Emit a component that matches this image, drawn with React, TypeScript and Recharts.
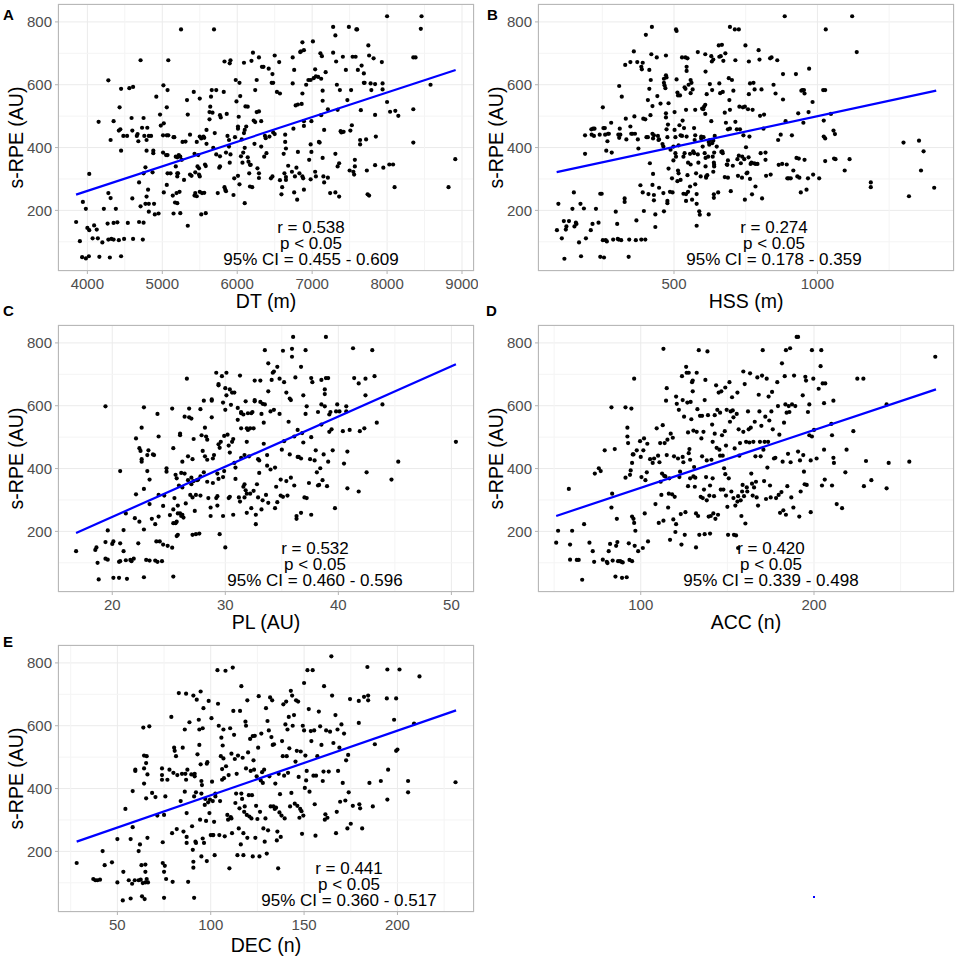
import React from "react";
import {
  ScatterChart,
  Scatter,
  XAxis,
  YAxis,
  CartesianGrid,
  ReferenceLine,
} from "recharts";

// ---------------------------------------------------------------------------
// Data
// ---------------------------------------------------------------------------

type Pt = [number, number];

const dtPoints: Pt[] = [
  [3850,163],[3900,102],[3940,227],[3980,205],[4000,144],[4025,137],[3930,51],[3980,47],[4020,54],[4025,316],
  [4090,152],[4125,139],[4070,111],[4140,111],[4200,98],[4220,205],[4160,52],[4280,255],[4310,239],[4270,158],
  [4280,107],[4320,109],[4350,107],[4300,50],[4350,160],[4380,205],[4400,162],[4420,105],[4490,109],[4450,54],
  [4280,614],[4310,424],[4150,482],[4350,484],[4450,587],[4610,593],[4560,589],[4430,528],[4440,458],[4420,454],
  [4450,390],[4480,437],[4530,437],[4590,494],[4600,454],[4660,437],[4680,420],[4670,443],[4710,678],[4750,494],
  [4730,463],[4800,463],[4760,437],[4820,437],[4850,437],[4790,424],[4790,390],[4880,390],[4880,382],[4775,337],
  [4750,318],[4690,289],[4810,266],[4790,244],[4775,221],[4820,221],[4890,221],[4870,321],[4950,190],[4900,187],
  [4820,196],[4710,213],[4690,163],[4750,161],[4740,107],[4610,109],[4540,160],[4600,238],[4920,562],[4970,505],
  [4980,470],[5010,439],[5020,477],[5060,528],[5070,583],[5015,598],[5080,678],[5060,439],[5080,439],[5010,384],
  [5050,376],[5070,376],[5020,257],[5060,281],[5070,318],[5110,318],[5140,247],[5150,190],[5170,225],[5180,340],
  [5200,318],[5210,318],[5150,433],[5160,433],[5200,369],[5220,376],[5240,371],[5260,361],[5180,371],[5200,308],
  [5230,259],[5240,191],[5190,255],[5200,223],[5250,776],[5270,418],[5310,419],[5290,297],[5330,551],[5340,505],
  [5370,441],[5340,151],[5370,314],[5390,310],[5420,577],[5460,418],[5430,380],[5440,321],[5470,340],[5490,314],
  [5500,308],[5490,334],[5480,376],[5500,556],[5500,435],[5520,429],[5550,435],[5560,431],[5590,412],[5570,346],
  [5580,341],[5500,259],[5430,247],[5440,255],[5530,255],[5520,187],[5580,191],[5560,256],[5460,245],[5590,456],
  [5630,490],[5630,513],[5640,530],[5650,562],[5660,583],[5690,776],[5670,511],[5680,399],[5700,446],[5720,378],
  [5720,583],[5740,255],[5770,340],[5760,336],[5770,503],[5780,496],[5770,372],[5820,577],[5830,674],[5830,274],
  [5840,266],[5850,261],[5850,384],[5860,507],[5870,437],[5890,424],[5890,403],[5900,668],[5910,678],[5910,378],
  [5900,352],[5950,249],[5960,302],[5970,433],[5990,547],[5980,615],[6010,460],[6010,467],[6030,606],[6020,498],
  [6010,310],[6030,283],[6040,564],[6050,372],[6060,426],[6070,352],[6080,384],[6090,446],[6100,456],[6090,670],
  [6100,399],[6100,223],[6120,467],[6110,531],[6140,530],[6140,369],[6150,355],[6160,318],[6170,276],[6170,345],
  [6180,345],[6190,676],[6200,274],[6210,702],[6220,486],[6230,412],[6240,583],[6240,481],[6260,615],[6260,513],
  [6270,334],[6290,687],[6290,515],[6290,318],[6290,303],[6320,484],[6320,403],[6330,657],[6350,657],[6360,371],
  [6370,437],[6380,430],[6390,382],[6420,651],[6430,435],[6460,606],[6470,634],[6480,606],[6470,308],[6450,302],
  [6480,448],[6500,693],[6500,443],[6530,577],[6560,672],[6570,572],[6570,296],[6590,251],[6600,274],[6620,380],
  [6630,318],[6640,441],[6640,418],[6650,306],[6650,297],[6650,397],[6680,342],[6730,323],[6740,687],[6740,604],
  [6750,460],[6760,647],[6760,257],[6770,308],[6780,534],[6790,336],[6800,234],[6810,386],[6810,537],[6830,318],
  [6840,704],[6850,706],[6870,735],[6860,539],[6870,572],[6870,308],[6880,302],[6890,710],[6890,266],[6890,469],
  [6890,484],[6920,600],[6950,615],[6960,361],[6980,410],[6980,299],[6980,615],[6990,386],[6990,484],[7010,738],
  [7020,621],[7040,649],[7040,323],[7050,308],[7050,627],[7080,625],[7090,418],[7100,416],[7110,700],[7120,503],
  [7120,619],[7130,691],[7140,581],[7140,549],[7140,367],[7150,308],[7160,456],[7160,289],[7180,640],[7210,522],
  [7240,255],[7210,304],[7280,702],[7280,784],[7310,757],[7310,380],[7310,257],[7320,674],[7330,600],[7340,340],
  [7340,520],[7360,244],[7370,583],[7360,350],[7380,452],[7390,448],[7410,689],[7420,450],[7450,647],[7470,551],
  [7490,784],[7500,327],[7510,454],[7520,583],[7530,471],[7540,689],[7550,323],[7560,314],[7570,340],[7570,361],
  [7580,689],[7590,776],[7600,776],[7610,647],[7640,410],[7640,424],[7650,519],[7660,661],[7690,636],[7690,606],
  [7700,606],[7720,426],[7730,327],[7740,251],[7750,725],[7760,247],[7760,693],[7780,604],[7790,583],[7820,684],
  [7840,602],[7840,504],[7850,435],[7840,344],[7930,672],[7940,585],[7940,604],[7950,336],[8000,818],[8000,545],
  [8030,346],[8040,514],[8080,346],[8100,274],[8110,517],[8150,501],[8350,687],[8380,687],[8350,522],[8350,416],
  [8460,818],[8450,778],[8580,600],[8820,274],[8910,363],
];

const hssPoints: Pt[] = [
  [92,137],[97,221],[109,111],[118,46],[116,166],[123,139],[125,149],[134,166],[151,257],[146,205],
  [153,149],[158,161],[160,157],[169,98],[174,221],[176,54],[186,206],[190,439],[190,380],[193,111],
  [210,137],[216,157],[218,460],[223,460],[212,458],[213,441],[221,437],[228,205],[237,161],[241,441],
  [243,253],[248,253],[243,52],[252,528],[254,462],[259,462],[252,105],[256,50],[260,441],[262,105],
  [264,390],[266,101],[268,420],[270,444],[273,444],[283,384],[281,479],[288,107],[297,196],[302,157],
  [304,109],[309,431],[309,596],[311,460],[313,441],[306,441],[307,107],[316,105],[318,562],[330,663],
  [332,492],[334,426],[328,238],[328,227],[342,52],[344,107],[348,672],[348,467],[351,444],[355,444],
  [360,706],[362,499],[364,444],[367,105],[369,168],[372,672],[374,426],[376,397],[383,280],[386,657],
  [388,649],[386,107],[391,257],[391,670],[393,492],[395,198],[400,490],[400,107],[402,759],[404,433],
  [409,433],[409,551],[414,647],[411,252],[418,503],[419,615],[414,587],[416,350],[421,697],[423,784],
  [425,532],[425,444],[427,429],[430,439],[425,281],[427,316],[430,249],[430,232],[435,147],[435,187],
  [440,687],[442,564],[444,437],[446,424],[448,426],[448,272],[453,540],[460,411],[463,255],[463,403],
  [465,619],[465,606],[465,197],[467,598],[470,589],[472,509],[472,496],[472,693],[474,458],[477,223],
  [472,630],[474,623],[477,230],[477,433],[479,473],[481,541],[481,333],[486,259],[488,393],[493,302],
  [495,257],[498,359],[498,403],[502,456],[502,513],[505,433],[505,382],[507,371],[509,771],[507,776],
  [509,617],[512,575],[512,293],[514,566],[514,327],[516,318],[516,407],[519,471],[521,566],[523,297],
  [523,439],[528,437],[528,687],[530,486],[533,253],[533,371],[535,462],[537,592],[537,382],[540,687],
  [540,587],[542,520],[542,252],[542,230],[544,435],[544,657],[544,644],[547,684],[547,312],[549,352],
  [549,259],[551,600],[556,276],[556,380],[558,573],[558,615],[558,346],[561,606],[563,234],[565,585],
  [567,388],[570,382],[570,462],[572,424],[574,439],[574,520],[574,283],[577,318],[579,221],[579,151],
  [579,252],[583,704],[583,378],[585,352],[588,197],[590,186],[593,308],[595,429],[595,435],[598,524],
  [600,403],[602,522],[603,433],[605,530],[607,382],[609,536],[609,697],[609,507],[610,642],[610,367],
  [610,340],[612,308],[612,304],[614,570],[616,312],[619,371],[621,187],[621,418],[623,409],[625,602],
  [625,424],[630,691],[630,484],[632,674],[633,583],[633,414],[635,371],[637,323],[637,422],[637,680],
  [639,251],[639,240],[639,352],[640,340],[640,384],[640,345],[642,437],[649,403],[654,257],[656,725],
  [658,604],[658,689],[661,573],[663,691],[665,386],[667,727],[668,388],[670,382],[670,577],[672,676],
  [677,511],[677,306],[679,700],[681,479],[684,346],[686,345],[688,359],[688,458],[688,304],[691,621],
  [693,551],[695,520],[695,460],[695,784],[698,261],[702,615],[705,342],[707,581],[712,776],[714,482],
  [714,678],[719,458],[721,363],[723,310],[726,776],[726,374],[728,530],[730,458],[733,350],[737,304],
  [738,371],[740,528],[742,439],[745,363],[747,530],[747,234],[749,725],[751,401],[753,318],[756,320],
  [758,522],[760,369],[761,674],[761,570],[763,435],[765,604],[765,300],[767,348],[770,352],[772,251],
  [774,520],[777,606],[779,350],[781,585],[784,276],[784,348],[791,348],[795,710],[798,680],[800,501],
  [802,382],[805,585],[807,238],[812,460],[814,505],[819,384],[819,361],[821,310],[835,684],[837,314],
  [840,687],[847,600],[854,572],[860,678],[863,424],[865,345],[872,441],[877,348],[880,634],[880,553],
  [886,818],[889,484],[893,346],[895,302],[900,302],[907,302],[911,439],[916,327],[925,634],[927,367],
  [930,308],[933,509],[937,304],[935,365],[942,257],[944,581],[948,583],[951,479],[953,583],[955,572],
  [955,361],[962,266],[967,302],[969,513],[971,651],[983,545],[985,314],[1006,302],[1020,583],[1027,583],
  [1022,486],[1022,435],[1027,429],[1027,357],[1029,776],[1047,507],[1056,454],[1061,443],[1058,365],[1063,363],
  [1095,327],[1112,363],[1121,818],[1137,704],[1186,289],[1186,274],[1300,416],[1319,245],[1354,422],[1361,327],
  [1370,388],[1407,272],
];

const plPoints: Pt[] = [
  [16.8,137],[18.5,141],[18.6,149],[18.7,100],[18.8,47],[19.4,598],[19.4,113],[19.6,110],[19.4,166],[19.6,203],
  [20.0,160],[20.1,168],[20.1,52],[20.6,52],[20.7,392],[20.7,162],[21.0,137],[21.0,204],[21.2,257],[21.3,49],
  [20.6,103],[20.7,105],[21.2,108],[21.6,109],[21.7,105],[21.9,113],[22.0,242],[22.1,318],[22.1,496],[22.3,162],
  [22.4,231],[22.4,465],[22.5,456],[22.6,430],[22.6,422],[22.6,530],[22.8,595],[22.8,54],[22.8,206],[22.8,335],
  [23.0,109],[23.1,392],[23.1,443],[23.2,458],[23.3,365],[23.3,107],[23.3,287],[23.5,240],[23.6,445],[23.7,443],
  [23.8,223],[23.8,107],[23.9,168],[24.0,103],[24.0,574],[24.1,247],[24.1,502],[24.1,316],[24.2,168],[24.4,105],
  [24.5,281],[24.5,158],[24.6,314],[24.8,401],[24.8,390],[24.9,154],[25.1,252],[25.3,148],[25.3,591],[25.4,465],
  [25.4,270],[25.4,56],[25.4,226],[25.5,306],[25.6,380],[25.6,226],[25.7,369],[25.7,231],[25.7,185],[25.8,189],
  [25.8,282],[25.8,257],[25.9,346],[26.0,506],[26.0,511],[26.0,257],[26.1,249],[26.1,386],[26.2,253],[26.2,422],
  [26.2,340],[26.3,244],[26.4,565],[26.4,384],[26.5,289],[26.6,686],[26.7,439],[26.7,363],[26.8,591],[26.8,563],
  [26.9,316],[27.0,350],[27.0,559],[27.0,371],[27.1,308],[27.1,430],[27.1,189],[27.2,494],[27.2,360],[27.3,265],
  [27.4,316],[27.4,191],[27.5,363],[27.6,365],[27.7,193],[27.8,314],[27.8,375],[27.8,589],[27.9,506],[28.0,456],
  [28.1,388],[28.1,616],[28.2,530],[28.2,439],[28.3,502],[28.4,492],[28.4,428],[28.4,358],[28.5,306],[28.7,276],
  [28.7,249],[28.8,620],[28.8,616],[28.8,563],[28.9,432],[28.9,354],[29.0,443],[29.2,306],[29.2,705],[29.3,312],
  [29.3,384],[29.3,282],[29.4,669],[29.4,367],[29.4,665],[29.4,477],[29.5,191],[29.5,466],[29.6,485],[29.7,694],
  [29.8,610],[29.8,249],[29.8,373],[29.9,392],[29.9,504],[30.0,149],[30.0,587],[30.1,705],[30.0,656],[30.1,633],
  [30.2,508],[30.3,306],[30.3,473],[30.4,652],[30.4,451],[30.4,310],[30.5,603],[30.6,485],[30.6,642],[30.7,253],
  [30.7,494],[30.8,642],[30.8,418],[30.9,403],[30.9,367],[31.1,555],[31.1,593],[31.2,308],[31.3,696],[31.3,295],
  [31.4,434],[31.4,580],[31.4,576],[31.4,528],[31.6,342],[31.6,572],[31.7,350],[31.7,443],[31.7,308],[31.8,614],
  [31.8,331],[31.9,320],[31.9,528],[31.9,485],[31.9,259],[32.0,523],[32.0,576],[32.1,439],[32.2,528],[32.2,320],
  [32.3,576],[32.3,274],[32.4,580],[32.5,329],[32.5,528],[32.6,618],[32.6,680],[32.6,614],[32.7,223],[32.7,253],
  [32.8,350],[32.9,308],[32.9,430],[33.0,386],[33.0,426],[33.1,612],[33.1,680],[33.2,270],[33.2,574],[33.3,299],
  [33.3,606],[33.4,546],[33.4,479],[33.5,777],[33.5,604],[33.6,316],[33.7,409],[33.7,443],[33.8,291],[33.8,646],
  [33.8,735],[34.0,397],[34.0,582],[34.1,682],[34.2,705],[34.3,587],[34.3,709],[34.4,274],[34.4,403],[34.5,342],
  [34.6,293],[34.6,724],[34.8,686],[34.8,574],[34.9,314],[34.9,365],[35.0,460],[35.1,310],[35.1,775],[35.2,487],
  [35.2,675],[35.4,642],[35.4,360],[35.5,314],[35.6,549],[35.7,623],[35.7,445],[35.8,371],[35.8,618],[35.9,781],
  [35.9,756],[36.0,819],[36.1,502],[36.1,346],[36.2,690],[36.3,240],[36.3,249],[36.4,437],[36.4,523],[36.5,437],
  [36.7,259],[36.7,432],[36.7,724],[36.8,513],[36.9,633],[36.9,483],[37.0,308],[37.1,574],[37.1,777],[37.2,306],
  [37.2,598],[37.4,354],[37.5,430],[37.6,500],[37.6,688],[37.6,253],[37.7,675],[37.9,426],[38.0,458],[38.1,388],
  [38.2,346],[38.2,580],[38.3,348],[38.4,401],[38.5,682],[38.5,604],[38.5,540],[38.6,363],[38.7,445],[38.8,598],
  [38.8,637],[38.8,652],[38.9,688],[38.9,819],[39.0,344],[39.1,688],[39.1,422],[39.2,572],[39.2,517],[39.3,580],
  [39.4,525],[39.5,458],[39.7,274],[39.8,582],[39.9,604],[40.1,582],[40.4,519],[40.5,416],[40.7,582],[40.7,598],
  [40.8,454],[40.8,337],[41.0,523],[41.3,783],[41.4,688],[41.8,671],[41.8,327],[41.9,519],[42.3,528],[42.4,686],
  [42.4,633],[42.5,388],[43.0,777],[43.2,694],[43.4,546],[43.9,604],[44.7,365],[45.3,422],[50.4,485],
];

const accPoints: Pt[] = [
  [51.2,164],[52.3,202],[58.5,335],[59.2,158],[59.2,110],[60.4,202],[63.1,109],[64.2,109],[66.2,46],[67.3,223],
  [70.4,164],[72.3,137],[73.1,103],[73.5,384],[75.8,401],[76.9,392],[79.2,458],[78.1,110],[80.4,103],[80.8,99],
  [81.5,137],[82.3,160],[83.1,595],[83.5,320],[83.1,276],[83.8,107],[85.0,462],[85.4,56],[85.8,154],[86.2,240],
  [86.5,166],[86.9,105],[88.1,105],[88.8,103],[89.2,52],[89.6,101],[91.2,371],[91.2,595],[91.9,54],[92.3,530],
  [92.3,502],[92.7,481],[93.1,162],[93.5,109],[93.8,380],[94.2,394],[94.6,591],[95.0,105],[95.0,247],[95.0,418],
  [95.4,445],[95.8,445],[95.8,240],[96.2,686],[96.2,227],[96.5,154],[96.9,202],[97.7,458],[98.5,137],[99.6,487],
  [100.0,437],[100.4,373],[101.2,147],[101.5,458],[101.9,496],[102.3,257],[102.7,363],[103.5,388],[103.8,479],[104.2,168],
  [105.4,430],[106.9,418],[107.7,432],[108.5,287],[109.2,528],[110.0,441],[110.4,227],[110.8,420],[111.2,481],[111.5,358],
  [111.9,316],[112.3,384],[112.7,538],[113.1,781],[113.1,234],[113.5,377],[113.8,481],[114.2,375],[114.6,616],[115.0,656],
  [115.0,443],[115.4,492],[115.8,276],[116.2,320],[116.5,369],[116.9,173],[117.3,511],[118.1,318],[118.5,498],[118.8,238],
  [119.2,439],[119.6,310],[120.0,198],[120.4,629],[120.4,223],[120.8,606],[121.5,432],[122.0,587],[122.3,373],[122.7,390],
  [123.1,255],[123.5,158],[123.8,694],[124.2,437],[124.2,618],[124.6,420],[125.0,565],[125.4,189],[125.8,261],[126.2,724],
  [126.5,705],[126.9,610],[127.3,344],[127.3,515],[127.7,449],[127.7,705],[128.1,462],[128.5,369],[128.5,428],[128.8,612],
  [129.2,557],[129.6,675],[130.0,680],[130.0,646],[130.4,521],[130.4,375],[130.8,405],[131.2,342],[131.5,371],[131.9,257],
  [131.9,149],[132.3,705],[132.3,517],[132.7,589],[133.1,249],[133.5,777],[133.8,189],[134.2,568],[134.6,310],[135.0,496],
  [135.4,439],[135.4,568],[135.8,306],[136.2,517],[136.5,333],[136.9,618],[136.9,191],[137.3,682],[137.7,373],[138.1,426],
  [138.1,299],[138.5,773],[138.8,570],[139.2,247],[139.6,314],[140.0,346],[140.0,193],[140.4,249],[140.8,428],[141.2,540],
  [141.5,485],[141.5,369],[141.9,257],[142.3,312],[142.7,570],[142.7,511],[143.1,240],[143.5,665],[143.8,466],[144.2,587],
  [144.6,253],[145.0,642],[145.4,460],[145.8,441],[145.8,578],[146.2,333],[146.5,646],[146.9,506],[147.3,441],[147.7,333],
  [148.1,401],[148.5,519],[148.8,382],[148.8,658],[149.2,314],[149.2,473],[149.6,587],[150.0,278],[150.4,189],[150.8,369],
  [151.2,675],[151.5,549],[151.9,582],[152.3,327],[152.7,627],[153.1,585],[153.5,306],[153.5,563],[153.8,189],[154.2,464],
  [154.6,282],[155.0,187],[155.4,574],[155.8,642],[155.8,295],[156.2,312],[156.5,525],[156.9,441],[157.3,481],[157.7,299],
  [158.1,249],[158.5,327],[158.8,348],[159.2,709],[159.2,517],[159.6,312],[160.0,669],[160.4,225],[160.8,485],[161.2,340],
  [161.5,327],[161.9,582],[162.3,525],[162.7,483],[163.1,703],[163.5,530],[163.8,384],[164.2,352],[164.6,314],[165.0,485],
  [165.4,340],[165.8,549],[166.2,439],[166.5,358],[166.9,308],[167.3,690],[167.7,282],[168.1,635],[168.5,582],[168.8,485],
  [169.2,439],[169.6,536],[170.0,696],[170.4,777],[170.8,460],[171.2,360],[171.5,485],[171.9,565],[172.3,303],[172.7,686],
  [173.1,403],[173.5,485],[173.8,629],[174.2,553],[174.6,346],[175.0,308],[175.4,582],[175.8,644],[176.2,525],[176.9,432],
  [177.7,434],[178.1,306],[178.8,675],[179.2,599],[179.6,316],[180.0,508],[180.4,259],[181.2,325],[181.5,735],[181.9,422],
  [182.3,267],[182.7,546],[183.1,694],[183.5,604],[183.8,253],[183.8,777],[184.2,578],[184.6,344],[185.0,447],[185.4,599],
  [185.8,580],[186.2,783],[186.5,420],[186.9,308],[187.3,604],[188.1,276],[188.5,696],[189.2,599],[190.0,819],[190.8,819],
  [190.8,454],[191.5,247],[191.9,426],[192.3,327],[193.5,633],[193.8,443],[194.2,390],[194.6,350],[195.0,692],[195.4,680],
  [195.8,348],[196.5,580],[197.3,604],[197.3,506],[198.1,261],[198.1,426],[198.8,777],[198.8,502],[199.6,686],[200.0,523],
  [201.5,432],[202.7,654],[203.8,726],[204.2,777],[204.6,346],[205.0,671],[205.8,608],[205.8,460],[206.2,365],[206.5,671],
  [210.0,542],[210.4,506],[210.4,346],[211.2,616],[211.2,434],[211.5,418],[213.1,287],[216.2,274],[218.1,388],[218.8,460],
  [222.7,519],[225.0,686],[228.5,686],[228.8,344],[230.0,424],[233.1,363],[241.9,604],[241.9,337],[243.1,418],[255.0,422],
  [270.0,756],[156.2,147],
];

const decPoints: Pt[] = [
  [28.2,163],[37.1,112],[38.2,108],[39.3,108],[40.7,110],[42.1,201],[43.2,156],[47.1,165],[50.0,101],[50.0,239],
  [52.9,44],[53.2,135],[54.3,335],[56.1,108],[57.1,50],[57.1,239],[57.9,97],[58.2,392],[58.2,277],[59.3,108],
  [59.6,460],[59.6,456],[61.4,108],[61.4,201],[62.1,222],[62.5,110],[62.9,156],[63.2,57],[63.6,99],[63.9,594],
  [64.3,505],[64.3,464],[64.3,416],[64.6,48],[65.0,158],[65.0,135],[65.0,101],[65.4,369],[65.4,481],[65.7,503],
  [65.7,112],[66.1,243],[66.1,445],[66.4,101],[67.1,598],[68.6,386],[70.4,373],[71.4,314],[73.9,464],[73.9,443],
  [73.9,428],[74.3,229],[74.3,163],[75.0,316],[75.0,135],[75.0,52],[75.4,154],[75.7,375],[76.1,112],[76.8,428],
  [77.9,460],[78.9,628],[79.3,258],[79.6,103],[80.0,450],[80.4,530],[80.7,520],[81.4,503],[81.8,271],[82.1,443],
  [82.9,704],[83.9,360],[84.6,447],[85.0,530],[85.4,263],[86.1,390],[86.1,588],[86.4,447],[86.8,702],[86.8,428],
  [87.1,227],[87.1,246],[87.1,322],[87.5,460],[87.9,103],[88.6,611],[89.6,445],[90.0,280],[90.4,205],[90.7,696],
  [90.7,148],[90.7,167],[91.1,52],[91.1,375],[91.4,447],[91.4,439],[91.8,231],[92.1,388],[92.1,227],[92.5,683],
  [92.9,509],[93.6,619],[93.9,588],[93.9,539],[94.3,301],[94.6,709],[94.6,477],[95.0,424],[95.0,184],[95.0,384],
  [95.3,411],[95.7,241],[95.7,592],[96.1,656],[96.4,227],[96.8,348],[97.1,367],[97.5,297],[97.9,169],[97.9,479],
  [98.2,484],[98.6,356],[98.9,679],[99.3,322],[99.6,365],[100.0,252],[100.4,624],[100.7,422],[101.1,360],[101.1,252],
  [101.4,252],[101.8,294],[102.1,188],[102.5,375],[102.5,384],[103.6,777],[103.9,670],[104.3,600],[104.6,252],[105.0,360],
  [105.4,503],[105.7,562],[106.1,462],[106.1,428],[106.4,537],[106.8,496],[106.8,588],[107.1,433],[107.5,248],[107.9,775],
  [108.2,471],[108.9,316],[109.3,301],[109.6,443],[110.0,146],[110.4,592],[110.7,309],[111.1,305],[111.1,511],[111.4,258],
  [111.8,785],[112.1,647],[112.5,571],[112.9,494],[113.2,354],[113.6,384],[113.9,447],[114.3,188],[114.6,505],[115.0,273],
  [115.4,337],[115.7,647],[116.1,222],[116.4,726],[116.4,384],[116.8,367],[117.1,498],[117.5,258],[117.5,188],[117.9,326],
  [118.2,343],[118.6,613],[118.9,600],[118.9,464],[119.3,316],[119.6,243],[119.6,681],[120.0,515],[120.4,379],[120.7,311],
  [121.1,558],[121.4,456],[121.8,305],[122.1,379],[122.5,567],[122.5,184],[122.9,490],[123.2,460],[123.6,568],[123.9,243],
  [124.3,345],[124.6,439],[125.0,303],[125.4,530],[125.7,694],[126.1,184],[126.4,326],[126.8,426],[127.1,575],[127.5,452],
  [127.9,418],[128.2,273],[128.6,460],[128.9,231],[129.3,305],[129.6,656],[130.0,193],[130.4,615],[130.7,267],[131.1,585],
  [131.4,439],[131.8,690],[132.1,343],[132.5,564],[132.9,681],[133.2,539],[133.6,343],[133.9,541],[134.3,335],[134.6,416],
  [135.0,339],[135.4,235],[135.7,263],[136.1,146],[136.4,447],[136.8,324],[137.1,382],[137.5,246],[137.9,314],[138.2,551],
  [138.6,503],[138.9,668],[139.3,441],[139.6,305],[140.0,604],[140.4,677],[140.7,503],[141.1,588],[141.4,450],[141.8,628],
  [142.1,528],[142.5,343],[142.9,711],[143.2,386],[143.6,696],[143.9,600],[144.6,634],[145.0,352],[145.4,486],[145.7,681],
  [146.1,520],[146.4,345],[146.8,677],[147.1,437],[147.5,307],[147.9,335],[148.2,518],[148.6,328],[148.9,256],[149.3,600],
  [149.6,314],[150.0,736],[150.0,585],[150.4,402],[150.7,505],[151.1,426],[151.4,456],[151.8,777],[152.5,653],[152.9,390],
  [153.6,583],[153.9,551],[154.6,777],[155.0,441],[155.4,585],[155.7,350],[156.1,250],[156.4,441],[157.1,503],[157.9,645],
  [158.6,598],[159.3,539],[160.0,424],[160.4,454],[160.7,726],[161.1,301],[161.4,318],[161.8,585],[162.5,307],[163.2,454],
  [163.9,581],[164.6,821],[165.0,696],[165.7,545],[166.8,634],[167.1,258],[167.5,326],[167.9,588],[168.2,456],[168.9,530],
  [169.3,358],[170.0,604],[170.7,418],[171.4,575],[172.1,362],[172.5,490],[173.2,273],[173.6,507],[173.9,388],[174.6,685],
  [175.0,288],[176.1,345],[179.3,679],[179.3,609],[179.6,350],[180.0,337],[181.1,273],[182.1,692],[183.9,787],[184.3,681],
  [184.3,696],[185.0,418],[186.8,343],[187.9,541],[191.1,424],[194.3,687],[194.6,779],[194.6,365],[195.0,460],[198.2,619],
  [199.3,687],[199.3,520],[200.0,524],[201.1,779],[205.7,424],[205.7,388],[208.9,607],[211.8,757],[231.1,420],
];

// Fitted regression lines (endpoints)
const dtFit: Pt[] = [[3849, 250], [8915, 647]];
const hssFit: Pt[] = [[91, 322], [1414, 581]];
const plFit: Pt[] = [[16.8, 195], [50.4, 732]];
const accFit: Pt[] = [[51.2, 249], [270.4, 652]];
const decFit: Pt[] = [[28.2, 231], [231.4, 649]];

// Axes
const yTicks = [200, 400, 600, 800];
const yMinor = [100, 300, 500, 700];
const yDomain: [number, number] = [7, 857];

const dtTicks = [4000, 5000, 6000, 7000, 8000, 9000];
const dtMinor = [4500, 5500, 6500, 7500, 8500];
const hssTicks = [500, 1000];
const hssMinor = [250, 750, 1250];
const plTicks = [20, 30, 40, 50];
const plMinor = [25, 35, 45];
const accTicks = [100, 200];
const accMinor = [50, 150, 250];
const decTicks = [50, 100, 150, 200];
const decMinor = [25, 75, 125, 175, 225];

// Annotations
const dtStats = ["r = 0.538", "p < 0.05", "95% CI = 0.455 - 0.609"];
const hssStats = ["r = 0.274", "p < 0.05", "95% CI = 0.178 - 0.359"];
const plStats = ["r = 0.532", "p < 0.05", "95% CI = 0.460 - 0.596"];
const accStats = ["r = 0.420", "p < 0.05", "95% CI = 0.339 - 0.498"];
const decStats = ["r = 0.441", "p < 0.05", "95% CI = 0.360 - 0.517"];

const FONT = '"Liberation Sans", Arial, Helvetica, sans-serif';

// ---------------------------------------------------------------------------
// One scatter panel
// ---------------------------------------------------------------------------

const CHART_W = 478;
const CHART_H = 310;
const Y_AXIS_W = 58;
const X_AXIS_H = 39;
const MARGIN = { top: 4, right: 4, bottom: 0, left: 0 };

function Dot(props: any) {
  const { cx, cy } = props;
  if (cx == null || cy == null) return <g />;
  return <circle cx={cx} cy={cy} r={2.1} fill="#000" />;
}

interface PanelProps {
  left: number;
  top: number;
  points: Pt[];
  fit: Pt[];
  xDomain: [number, number];
  xTicks: number[];
  xMinor: number[];
  letter: string;
  letterX: number;
  letterY: number;
  xLabel: string;
  xLabelDy: number;
  stats: string[];
  statsX: number;
  statsY: number;
}

function Panel(p: PanelProps) {
  const data = p.points.map(([x, y]) => ({ x, y }));
  const line = p.fit.map(([x, y]) => ({ x, y }));
  const plotW = CHART_W - Y_AXIS_W - MARGIN.right;
  const plotH = CHART_H - X_AXIS_H - MARGIN.top;

  return (
    <div style={{ position: "absolute", left: p.left, top: p.top, width: CHART_W, height: CHART_H }}>
      <ScatterChart width={CHART_W} height={CHART_H} margin={MARGIN}>
        <CartesianGrid stroke="#ebebeb" strokeWidth={1} />
        {p.xMinor.map((v) => (
          <ReferenceLine key={`xm-${v}`} x={v} stroke="#f4f4f4" strokeWidth={1} />
        ))}
        {yMinor.map((v) => (
          <ReferenceLine key={`ym-${v}`} y={v} stroke="#f4f4f4" strokeWidth={1} />
        ))}
        <XAxis
          type="number"
          dataKey="x"
          domain={p.xDomain}
          ticks={p.xTicks}
          interval={0}
          allowDataOverflow
          height={X_AXIS_H}
          axisLine={false}
          tickLine={{ stroke: "#b3b3b3" }}
          tickSize={3}
          tickMargin={4}
          tick={{ fill: "#4d4d4d", fontSize: 15, fontFamily: FONT }}
        />
        <YAxis
          type="number"
          dataKey="y"
          domain={yDomain}
          ticks={yTicks}
          interval={0}
          allowDataOverflow
          width={Y_AXIS_W}
          axisLine={false}
          tickLine={{ stroke: "#b3b3b3" }}
          tickSize={3}
          tickMargin={3}
          tick={{ fill: "#4d4d4d", fontSize: 15, fontFamily: FONT }}
        />
        <Scatter data={data} shape={Dot} isAnimationActive={false} />
        <Scatter
          data={line}
          line={{ stroke: "#0000ff", strokeWidth: 2.2 }}
          shape={() => <g />}
          isAnimationActive={false}
        />
      </ScatterChart>

      {/* panel border */}
      <div
        style={{
          position: "absolute",
          left: Y_AXIS_W,
          top: MARGIN.top,
          width: plotW,
          height: plotH,
          border: "1px solid #b8b8b8",
          boxSizing: "border-box",
          pointerEvents: "none",
        }}
      />

      <svg
        width={CHART_W}
        height={CHART_H + 20}
        style={{ position: "absolute", left: 0, top: 0, pointerEvents: "none", overflow: "visible" }}
      >
        <text x={p.letterX} y={p.letterY} fontFamily={FONT} fontWeight="bold" fontSize={15} fill="#000">
          {p.letter}
        </text>
        <text
          transform={`translate(23, ${MARGIN.top + plotH / 2}) rotate(-90)`}
          textAnchor="middle"
          fontFamily={FONT}
          fontSize={19.5}
          fill="#000"
        >
          s-RPE (AU)
        </text>
        <text
          x={Y_AXIS_W + plotW / 2}
          y={MARGIN.top + plotH + p.xLabelDy}
          textAnchor="middle"
          fontFamily={FONT}
          fontSize={19.5}
          fill="#000"
        >
          {p.xLabel}
        </text>
        {p.stats.map((s, i) => (
          <text
            key={s}
            x={p.statsX}
            y={p.statsY + i * 16}
            textAnchor="middle"
            fontFamily={FONT}
            fontSize={17}
            fill="#000"
          >
            {s}
          </text>
        ))}
      </svg>
    </div>
  );
}

// ---------------------------------------------------------------------------
// Figure
// ---------------------------------------------------------------------------

export default function App() {
  return (
    <div
      style={{
        position: "absolute",
        left: 0,
        top: 0,
        width: 957,
        height: 957,
        background: "#fff",
        fontFamily: FONT,
        overflow: "hidden",
      }}
    >
      <Panel
        left={0} top={0}
        points={dtPoints} fit={dtFit}
        xDomain={[3608, 9160]} xTicks={dtTicks} xMinor={dtMinor}
        letter="A" letterX={3} letterY={20}
        xLabel="DT (m)" xLabelDy={37}
        stats={dtStats} statsX={311} statsY={233}
      />
      <Panel
        left={480} top={0}
        points={hssPoints} fit={hssFit}
        xDomain={[26, 1476]} xTicks={hssTicks} xMinor={hssMinor}
        letter="B" letterX={7} letterY={20}
        xLabel="HSS (m)" xLabelDy={37}
        stats={hssStats} statsX={294} statsY={233}
      />
      <Panel
        left={0} top={321}
        points={plPoints} fit={plFit}
        xDomain={[15.2, 52]} xTicks={plTicks} xMinor={plMinor}
        letter="C" letterX={3} letterY={-5}
        xLabel="PL (AU)" xLabelDy={37}
        stats={plStats} statsX={315} statsY={233}
      />
      <Panel
        left={480} top={321}
        points={accPoints} fit={accFit}
        xDomain={[40.7, 280.8]} xTicks={accTicks} xMinor={accMinor}
        letter="D" letterX={6} letterY={-5}
        xLabel="ACC (n)" xLabelDy={37}
        stats={accStats} statsX={291} statsY={233}
      />
      <Panel
        left={0} top={641}
        points={decPoints} fit={decFit}
        xDomain={[18.2, 241]} xTicks={decTicks} xMinor={decMinor}
        letter="E" letterX={3} letterY={6}
        xLabel="DEC (n)" xLabelDy={39.5}
        stats={decStats} statsX={349} statsY={233}
      />
      {/* stray blue pixel present in the original figure */}
      <div style={{ position: "absolute", left: 813, top: 896, width: 2, height: 2, background: "#0000ff" }} />
    </div>
  );
}
